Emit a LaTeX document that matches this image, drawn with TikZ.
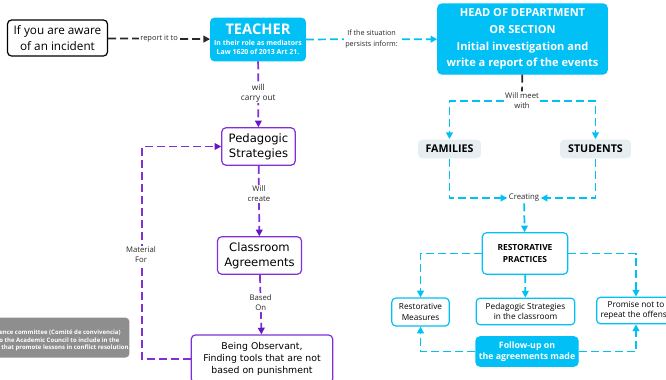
\documentclass[tikz,border=0pt]{standalone}
\usepackage{fontspec}
\setmainfont{Open Sans}
\newfontfamily\verd{DejaVu Sans}
\usetikzlibrary{arrows.meta}

\definecolor{cyanA}{RGB}{0,192,245}
\definecolor{purp}{RGB}{128,48,214}
\definecolor{purpdark}{RGB}{104,20,200}
\definecolor{greynote}{RGB}{142,142,142}
\definecolor{paleblue}{RGB}{230,238,242}
\definecolor{inkdark}{RGB}{40,40,40}

\newcommand{\fsz}[2]{\fontsize{#1}{#2}\selectfont}

\begin{document}
\begin{tikzpicture}[x=0.75pt,y=-0.75pt,
  box/.style={rounded corners=3pt, align=center, inner sep=0pt, line width=0.9pt},
  solidcyan/.style={box, fill=cyanA, draw=cyanA, text=white, font=\bfseries},
  linecyan/.style={box, draw=cyanA, fill=white},
  purpbox/.style={box, draw=purp, fill=white},
  lbl/.style={fill=white, inner sep=1pt, align=center, text=inkdark},
  tip/.style={-{Triangle[length=5pt,width=5pt]}},
  ptip/.style={-{Triangle[length=5pt,width=5pt,color=purpdark]}},
  kdash/.style={draw=inkdark, line width=1.3pt, dash pattern=on 6pt off 3pt},
  cdash/.style={draw=cyanA, line width=1.3pt, dash pattern=on 6pt off 3pt},
  pdash/.style={draw=purp, line width=1.3pt, dash pattern=on 6pt off 3pt}
]
\useasboundingbox (0,0) rectangle (666,379);
\clip (0,0) rectangle (666,379);

% ---- top row
\node[box, draw=black, fill=white, minimum width=75pt, minimum height=27pt,
      font=\fsz{8.8}{12}] (inc) at (57.5,38) {If you are aware\\of an incident};
\node[solidcyan, minimum width=71pt, minimum height=32pt] (teacher) at (258,39.5)
  {\parbox{70pt}{\centering\bfseries\fsz{11}{13}TEACHER\par\vspace{1.2pt}%
   \fsz{5.2}{6.8}In their role as mediators\\Law 1620 of 2013 Art 21.\par}};
\node[solidcyan, minimum width=127pt, minimum height=52.5pt, font=\bfseries\fsz{8.3}{12.6}]
  (head) at (522.5,39) {HEAD OF DEPARTMENT\\OR SECTION\\Initial investigation and\\write a report of the events};

\draw[kdash, tip] (inc) -- node[lbl, font=\fsz{5.6}{7}] {report it to} (teacher);
\draw[cdash, tip] (teacher) -- node[lbl, font=\fsz{5.4}{8}, pos=0.5] {If the situation\\persists inform:} (head);

% ---- meeting branch
\node[lbl, font=\fsz{5.8}{7.5}] (meet) at (522,101) {Will meet\\with};
\node[box, fill=paleblue, minimum width=47pt, minimum height=14pt, font=\bfseries\fsz{8}{9}]
  (fam) at (449.5,149) {FAMILIES};
\node[box, fill=paleblue, minimum width=53pt, minimum height=14pt, font=\bfseries\fsz{8}{9}]
  (stu) at (595.5,149) {STUDENTS};
\node[lbl, font=\fsz{5.8}{7}] (cre) at (524,198) {Creating};

\draw[kdash] (head) -- (meet);
\draw[cdash, tip] (meet.west) -| (fam.north);
\draw[cdash, tip] (meet.east) -| (stu.north);
\draw[cdash, tip] (fam.south) |- (cre.west);
\draw[cdash, tip] (stu.south) |- (cre.east);

\node[linecyan, minimum width=64pt, minimum height=31pt, font=\bfseries\fsz{6.3}{9.5}]
  (rp) at (525,253.5) {RESTORATIVE\\PRACTICES};
\draw[cdash, tip] (cre) -- (rp);

\node[linecyan, minimum width=43pt, minimum height=21pt, font=\fsz{6.2}{8.6}]
  (rm) at (420.5,312) {Restorative\\Measures};
\node[linecyan, minimum width=74pt, minimum height=20pt, font=\fsz{6.2}{7.6}]
  (ps) at (525.5,311.5) {Pedagogic Strategies\\in the classroom};
\node[linecyan, minimum width=59pt, minimum height=20pt, font=\fsz{6.2}{7.6}]
  (pr) at (636,310.5) {Promise not to\\repeat the offense};
\node[solidcyan, minimum width=76.5pt, minimum height=22pt, font=\bfseries\fsz{6.6}{8.6}]
  (fu) at (527,351.5) {Follow-up on\\the agreements made};

\draw[cdash, tip] (rp.west) -| (rm.north);
\draw[cdash, tip] (rp) -- (ps);
\draw[cdash, tip] (rp.east) -| (pr.north);
\draw[cdash, tip] (fu.west) -| (rm.south);
\draw[cdash, tip] (fu.east) -| (pr.south);

% ---- teacher branch
\node[purpbox, minimum width=55pt, minimum height=28pt, font=\verd\fsz{8.7}{11}]
  (ped) at (258.5,146.5) {Pedagogic\\Strategies};
\node[purpbox, minimum width=63pt, minimum height=28pt, font=\verd\fsz{8.7}{11}]
  (ca) at (259.5,255.5) {Classroom\\Agreements};
\node[purpbox, minimum width=106pt, minimum height=36pt, font=\verd\fsz{7}{9}]
  (bo) at (262,359) {Being Observant,\\Finding tools that are not\\based on punishment};

\draw[pdash, ptip] (teacher) -- node[lbl, font=\fsz{6.2}{7.5}, pos=0.48] {will\\carry out} (ped);
\draw[pdash, ptip] (ped) -- node[lbl, font=\fsz{5.8}{7.5}, pos=0.4] {Will\\create} (ca);
\draw[pdash, ptip] (ca) -- node[lbl, font=\fsz{5.8}{7.5}, pos=0.47] {Based\\On} (bo);
\draw[pdash, ptip] (bo.west) -| (142,250) |- (ped.west);
\node[lbl, font=\fsz{5.8}{7.5}] (matfor) at (141,255) {Material\\For};

% ---- note
\node[box, fill=greynote, anchor=north east, minimum width=140pt, minimum height=30pt]
  (note) at (130,317) {};
\node[anchor=west, align=left, inner sep=0pt, text=white, font=\bfseries\fsz{4.5}{5.6}]
  (notetext) at (-1,340.5) {ence committee (Comité de convivencia)\\o the Academic Council to include in the\\\hspace{1.5pt}that promote lessons in conflict resolution.};
\end{tikzpicture}
\end{document}
